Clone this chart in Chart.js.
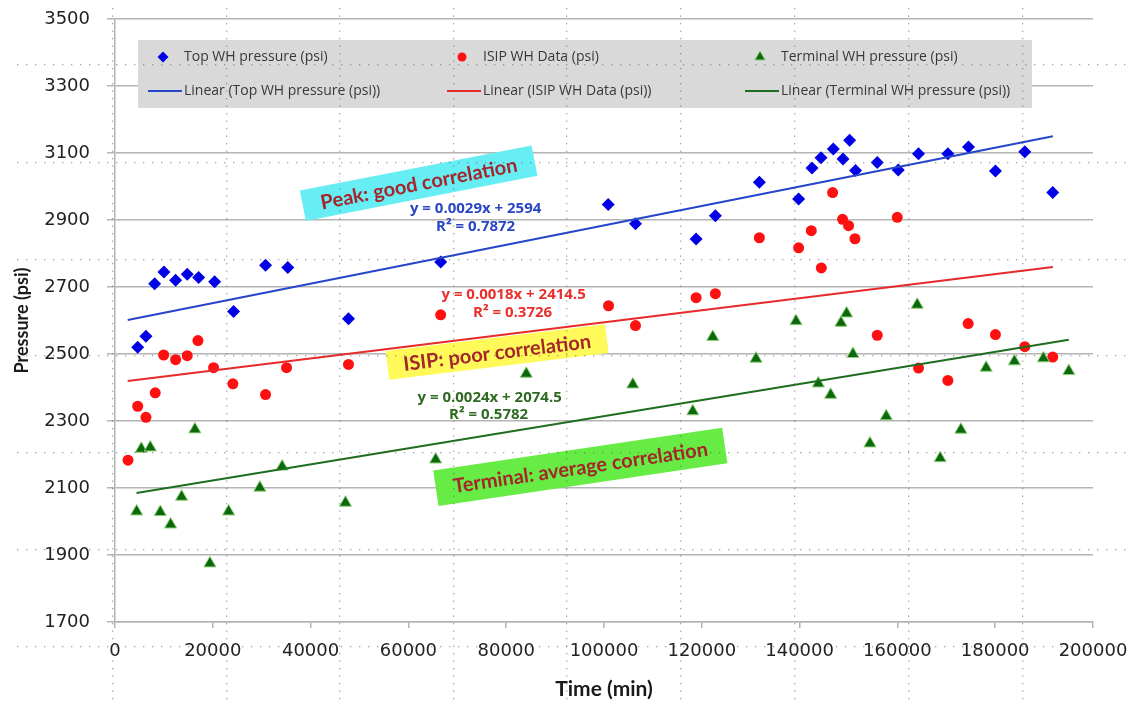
<!DOCTYPE html>
<html>
<head>
<meta charset="utf-8">
<script src="https://cdn.jsdelivr.net/npm/chart.js@4.4.1/dist/chart.umd.min.js"></script>
<style>
html, body { margin: 0; padding: 0; background: #fff; }
#wrap { width: 1134px; height: 703px; }
</style>
</head>
<body>
<div id="wrap"><canvas id="myScatterChart" width="1134" height="703"></canvas></div>
<script>
// values (time in min, pressure in psi)
var topTime = [4640, 6330, 8110, 10010, 12400, 14770, 17100, 20370, 24250, 30790, 35340, 47750, 66600, 100860, 106440, 118840, 122780, 131770, 139800, 142540, 144380, 146890, 148870, 150230, 151450, 155880, 160170, 164320, 170320, 174540, 180050, 186050, 191770];
var topPressure = [2520, 2553, 2710, 2745, 2720, 2738, 2728, 2716, 2627, 2765, 2758, 2605, 2775, 2946, 2889, 2843, 2913, 3013, 2963, 3055, 3086, 3112, 3082, 3138, 3048, 3072, 3049, 3098, 3098, 3118, 3046, 3104, 2982];

var isipTime = [2660, 4640, 6330, 8230, 9950, 12400, 14770, 16960, 20160, 24110, 30790, 35080, 47750, 66600, 100930, 106440, 118840, 122780, 131770, 139800, 142390, 144440, 146750, 148790, 150020, 151320, 155880, 159970, 164320, 170320, 174470, 180050, 186050, 191770];
var isipPressure = [2183, 2344, 2311, 2384, 2497, 2483, 2495, 2540, 2459, 2411, 2379, 2459, 2469, 2617, 2644, 2585, 2668, 2680, 2847, 2817, 2868, 2757, 2982, 2902, 2883, 2844, 2556, 2908, 2458, 2421, 2591, 2558, 2522, 2491];

var termTime = [4430, 5380, 7220, 9260, 11380, 13620, 16340, 19410, 23230, 29620, 34180, 47130, 65580, 84110, 105890, 118150, 122240, 131090, 139270, 143830, 146350, 148460, 149610, 150910, 154390, 157720, 164050, 168750, 172980, 178150, 183930, 189860, 195050];
var termPressure = [2030, 2217, 2221, 2028, 1991, 2074, 2275, 1875, 2030, 2101, 2164, 2056, 2185, 2441, 2409, 2329, 2551, 2486, 2598, 2412, 2378, 2593, 2621, 2500, 2233, 2314, 2647, 2189, 2274, 2459, 2478, 2487, 2449];

// trendline equations printed on the chart: [slope, intercept], and x span of each line
var topFit = [0.0029, 2594];
var isipFit = [0.0018, 2414.5];
var termFit = [0.0024, 2074.5];
var topFitSpan = [2600, 191800];
var isipFitSpan = [2600, 191800];
var termFitSpan = [4400, 195050];

var seriesNames = ['Top WH pressure (psi)', 'ISIP WH Data (psi)', 'Terminal WH pressure (psi)'];
var equationTexts = ['y = 0.0029x + 2594', 'R² = 0.7872', 'y = 0.0018x + 2414.5', 'R² = 0.3726', 'y = 0.0024x + 2074.5', 'R² = 0.5782'];
var calloutTexts = ['Peak: good correlation', 'ISIP: poor correlation', 'Terminal: average correlation'];

function toPoints(xs, ys) {
    var out = [];
    for (var i = 0; i < xs.length; i++) {
        out.push({ x: xs[i], y: ys[i] });
    }
    return out;
}

function fitPoints(fit, span) {
    return [
        { x: span[0], y: fit[0] * span[0] + fit[1] },
        { x: span[1], y: fit[0] * span[1] + fit[1] }
    ];
}

function lineDataset(label, fit, span, color) {
    return {
        type: 'line',
        label: label,
        data: fitPoints(fit, span),
        showLine: true,
        borderColor: color,
        backgroundColor: color,
        borderWidth: 2,
        pointRadius: 0,
        fill: false,
        order: 0
    };
}

var BLUE = '#0000e6', RED = '#ff1010', GREEN = '#0b680b';

// notes are anchored in data units so they follow the scales
var callouts = [
    { text: calloutTexts[0], x: 62100, y: 3010, w: 236, h: 31, angle: -11, fill: '#66eef4' },
    { text: calloutTexts[1], x: 78140, y: 2506, w: 221, h: 29, angle: -7, fill: '#fffa5a' },
    { text: calloutTexts[2], x: 95160, y: 2163, w: 292, h: 36, angle: -8.4, fill: '#66ec44' }
];
var equations = [
    { text: equationTexts[0], x: 73750, y: 2934, color: '#2b46c4' },
    { text: equationTexts[1], x: 73750, y: 2880, color: '#2b46c4' },
    { text: equationTexts[2], x: 81510, y: 2677, color: '#e8302f' },
    { text: equationTexts[3], x: 81300, y: 2624, color: '#e8302f' },
    { text: equationTexts[4], x: 76610, y: 2370, color: '#2e6b22' },
    { text: equationTexts[5], x: 76400, y: 2320, color: '#2e6b22' }
];

var overlayPlugin = {
    id: 'overlay',
    afterDraw: function (chart) {
        var ctx = chart.ctx;
        var xs = chart.scales.x, ys = chart.scales.y;
        var ds = chart.data.datasets;
        ctx.save();

        // legend box
        ctx.fillStyle = '#d9d9d9';
        ctx.fillRect(138, 40, 894, 68);
        var cols = [163, 462, 760];
        ctx.font = '14px "Open Sans"';
        ctx.textBaseline = 'middle';
        ctx.textAlign = 'left';
        for (var i = 0; i < 3; i++) {
            var pd = ds[3 + i];
            var ld = ds[i];
            ctx.fillStyle = pd.backgroundColor;
            ctx.strokeStyle = pd.borderColor;
            ctx.lineWidth = pd.borderWidth;
            Chart.helpers.drawPoint(ctx, { pointStyle: pd.pointStyle, radius: pd.pointRadius - 1, rotation: 0, borderWidth: pd.borderWidth }, cols[i], 57);
            ctx.strokeStyle = ld.borderColor;
            ctx.lineWidth = 2;
            ctx.beginPath();
            ctx.moveTo(cols[i] - 15, 91);
            ctx.lineTo(cols[i] + 19, 91);
            ctx.stroke();
            ctx.fillStyle = '#383838';
            ctx.fillText(pd.label, cols[i] + 21, 57);
            ctx.fillText(ld.label, cols[i] + 21, 91);
        }

        // rotated callouts
        ctx.textAlign = 'center';
        callouts.forEach(function (c) {
            ctx.save();
            ctx.translate(xs.getPixelForValue(c.x), ys.getPixelForValue(c.y));
            ctx.rotate(c.angle * Math.PI / 180);
            ctx.fillStyle = c.fill;
            ctx.fillRect(-c.w / 2, -c.h / 2, c.w, c.h);
            ctx.fillStyle = '#a5262a';
            ctx.font = 'bold 20px Lato';
            ctx.fillText(c.text, 0, 1);
            ctx.restore();
        });

        // trendline equations
        ctx.font = 'bold 15px "Open Sans"';
        equations.forEach(function (e) {
            ctx.fillStyle = e.color;
            ctx.fillText(e.text, xs.getPixelForValue(e.x), ys.getPixelForValue(e.y));
        });

        // faint dotted page grid that sits over the figure
        ctx.fillStyle = 'rgba(90,90,90,0.55)';
        [112, 226, 339, 453, 566, 680, 794, 908, 1022].forEach(function (vx) {
            for (var y = 8; y < 703; y += 7.5) ctx.fillRect(vx, y, 1.3, 1.3);
        });
        [64, 162, 259, 355, 452, 549, 646].forEach(function (hy) {
            for (var x = 17; x < 1130; x += 9) ctx.fillRect(x, hy, 1.3, 1.3);
        });
        ctx.restore();
    }
};

var canvas = document.getElementById('myScatterChart');
var chart = new Chart(canvas, {
    type: 'scatter',
    data: {
        datasets: [
            lineDataset('Linear (Top WH pressure (psi))', topFit, topFitSpan, '#2546c8'),
            lineDataset('Linear (ISIP WH Data (psi))', isipFit, isipFitSpan, '#e62a2a'),
            lineDataset('Linear (Terminal WH pressure (psi))', termFit, termFitSpan, '#1f6e1f'),
            {
                label: seriesNames[0],
                data: toPoints(topTime, topPressure),
                pointStyle: 'rectRot',
                pointRadius: 6.5,
                backgroundColor: BLUE,
                borderColor: BLUE,
                borderWidth: 0,
                order: 3
            },
            {
                label: seriesNames[1],
                data: toPoints(isipTime, isipPressure),
                pointStyle: 'circle',
                pointRadius: 5.5,
                backgroundColor: RED,
                borderColor: RED,
                borderWidth: 0,
                order: 2
            },
            {
                label: seriesNames[2],
                data: toPoints(termTime, termPressure),
                pointStyle: 'triangle',
                pointRadius: 7,
                backgroundColor: GREEN,
                borderColor: '#8fd07a',
                borderWidth: 1,
                order: 1
            }
        ]
    },
    options: {
        responsive: false,
        animation: false,
        devicePixelRatio: 1,
        layout: { padding: { left: 0, top: 19, right: 41, bottom: 0 } },
        plugins: {
            legend: { display: false },
            tooltip: { enabled: false }
        },
        scales: {
            x: {
                type: 'linear',
                min: 0,
                max: 200000,
                ticks: {
                    stepSize: 20000,
                    padding: 13,
                    color: '#222',
                    font: { family: 'DejaVu Sans', size: 18 },
                    callback: function (v) { return String(v); }
                },
                grid: { drawOnChartArea: false, drawTicks: true, tickLength: 6, color: '#b4b4b4', lineWidth: 1.5 },
                border: { color: '#b4b4b4', width: 1.5 },
                title: {
                    display: true,
                    text: 'Time (min)',
                    color: '#1a1a1a',
                    font: { family: 'Lato', size: 21, weight: 'bold' },
                    padding: { top: 0, bottom: 1 }
                },
                afterFit: function (scale) {
                    scale.height = 81;
                    scale.paddingLeft = 0;
                    scale.paddingRight = 0;
                }
            },
            y: {
                min: 1700,
                max: 3500,
                ticks: {
                    stepSize: 200,
                    padding: 17,
                    color: '#222',
                    font: { family: 'DejaVu Sans', size: 18 },
                    callback: function (v) { return String(v); }
                },
                grid: { color: '#b4b4b4', lineWidth: 1.5, drawTicks: true, tickLength: 8 },
                border: { color: '#b4b4b4', width: 1.5 },
                title: {
                    display: true,
                    text: 'Pressure (psi)',
                    color: '#1a1a1a',
                    font: { family: 'Lato', size: 18, weight: 'bold' },
                    padding: { top: 11, bottom: 0 }
                },
                afterFit: function (scale) {
                    scale.width = 115;
                    scale.paddingTop = 0;
                    scale.paddingBottom = 0;
                }
            }
        }
    },
    plugins: [overlayPlugin]
});
</script>
</body>
</html>
